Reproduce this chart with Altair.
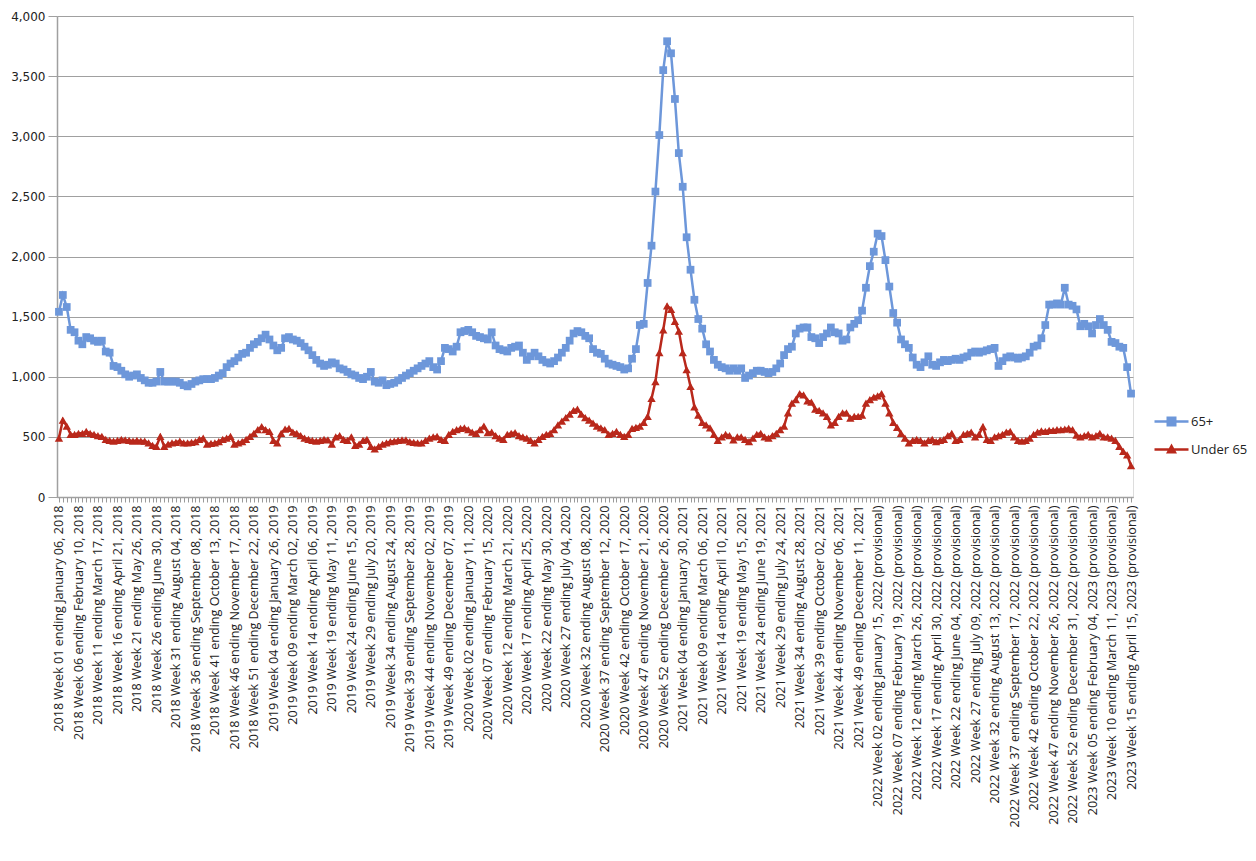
import json
import datetime
import altair as alt
import pandas as pd

# ---- data -------------------------------------------------------------
YEARS_WEEKS = [(2018, 52), (2019, 52), (2020, 53), (2021, 52), (2022, 52), (2023, 15)]
FIRST_WEEK_END = datetime.date(2018, 1, 6)
PROVISIONAL_FROM = 2022

SENIOR = [
    1540, 1680, 1580, 1390, 1370, 1300, 1270, 1330, 1320, 1300,
    1290, 1300, 1210, 1200, 1090, 1080, 1050, 1020, 1000, 1010,
    1020, 990, 970, 950, 950, 960, 1040, 960, 960, 960,
    960, 950, 930, 920, 940, 960, 970, 980, 980, 980,
    990, 1010, 1030, 1080, 1110, 1130, 1160, 1190, 1200, 1240,
    1270, 1290, 1320, 1350, 1310, 1260, 1220, 1240, 1320, 1330,
    1310, 1300, 1280, 1250, 1220, 1180, 1140, 1110, 1090, 1100,
    1120, 1110, 1070, 1060, 1040, 1020, 1010, 990, 980, 1000,
    1040, 960, 950, 970, 930, 940, 950, 970, 990, 1010,
    1030, 1050, 1070, 1090, 1110, 1130, 1080, 1060, 1130, 1240,
    1230, 1210, 1250, 1370, 1380, 1390, 1370, 1340, 1330, 1320,
    1310, 1370, 1260, 1230, 1220, 1210, 1240, 1250, 1260, 1200,
    1140, 1170, 1200, 1170, 1140, 1120, 1110, 1130, 1160, 1200,
    1240, 1300, 1360, 1380, 1370, 1340, 1320, 1230, 1200, 1190,
    1150, 1110, 1100, 1090, 1080, 1060, 1070, 1150, 1230, 1430,
    1440, 1780, 2090, 2540, 3010, 3550, 3790, 3690, 3310, 2860,
    2580, 2160, 1890, 1640, 1480, 1400, 1270, 1210, 1140, 1100,
    1080, 1070, 1050, 1070, 1050, 1070, 990, 1010, 1030, 1050,
    1050, 1040, 1030, 1040, 1070, 1110, 1180, 1230, 1250, 1360,
    1400, 1410, 1410, 1330, 1320, 1280, 1330, 1360, 1410, 1370,
    1360, 1300, 1310, 1410, 1440, 1470, 1550, 1740, 1920, 2040,
    2190, 2170, 1970, 1750, 1530, 1450, 1310, 1270, 1240, 1160,
    1100, 1080, 1120, 1170, 1100, 1090, 1120, 1140, 1130, 1140,
    1150, 1140, 1160, 1170, 1200, 1210, 1200, 1210, 1220, 1230,
    1240, 1090, 1130, 1160, 1170, 1160, 1150, 1160, 1170, 1200,
    1250, 1260, 1320, 1430, 1600, 1600, 1610, 1600, 1740, 1600,
    1590, 1560, 1420, 1440, 1420, 1360, 1430, 1480, 1430, 1390,
    1290, 1280, 1250, 1240, 1080, 860,
]

UNDER65 = [
    490, 640, 590, 520, 520, 530, 530, 545, 530, 520,
    510, 505, 480, 470, 465, 470, 480, 475, 470, 465,
    470, 465, 465, 450, 430, 420, 505, 420, 440, 450,
    455, 465, 450, 450, 455, 460, 480, 490, 440, 445,
    450, 460, 480, 490, 505, 440, 450, 460, 480, 505,
    530, 560, 585, 560, 545, 470, 450, 530, 565, 570,
    540, 530, 510, 490, 480, 470, 465, 470, 480, 475,
    440, 500, 510, 480, 470, 500, 430, 440, 470, 480,
    420, 400, 420, 440, 450, 460, 465, 470, 475, 475,
    460, 455, 450, 450, 470, 490, 500, 505, 480, 470,
    520, 545, 560, 570, 575, 560, 540, 530, 560, 590,
    535, 540, 510, 490, 480, 520, 530, 535, 510, 500,
    490, 470, 450, 480, 505, 520, 530, 560, 600, 630,
    660, 690, 720, 730, 690, 660, 640, 615, 590, 575,
    560, 520, 530, 545, 520, 505, 520, 570, 580, 590,
    620, 670, 820, 960, 1200, 1390, 1590, 1560, 1460, 1380,
    1200, 1060, 920, 750, 680, 620, 600, 575, 520, 470,
    500, 520, 510, 475, 500, 500, 480, 460, 490, 520,
    530, 500, 490, 510, 530, 560, 590, 700, 780, 810,
    860, 850, 800, 790, 730, 720, 700, 670, 600, 620,
    670, 700, 700, 655, 670, 670, 680, 780, 810, 830,
    840, 860, 780, 700, 620, 580, 530, 490, 450, 470,
    480, 470, 450, 470, 480, 460, 470, 480, 510, 530,
    470, 480, 520, 530, 540, 500, 520, 585, 480, 470,
    500, 510, 520, 540, 545, 500, 470, 465, 470, 490,
    520, 540, 550, 545, 555, 555, 560, 560, 565, 570,
    560, 515, 500, 510, 520, 500, 510, 530, 500, 500,
    490, 470, 420, 380, 350, 260,
]

SERIES = ["65+", "Under 65"]
COLORS = ["#6D97DA", "#B9281B"]
MARKERS = ["square", "triangle-up"]
LEGEND_SYMBOLS = [
    "M-3.4,-0.25H3.4V0.25H-3.4Z M-1,-1H1V1H-1Z",
    "M-3.4,-0.25H3.4V0.25H-3.4Z M0,-1.2L1.1,0.8H-1.1Z",
]

# ---- week labels ------------------------------------------------------
labels = []
k = 0
for year, nweeks in YEARS_WEEKS:
    for wk in range(1, nweeks + 1):
        d = FIRST_WEEK_END + datetime.timedelta(days=7 * k)
        lab = f"{year} Week {wk:02d} ending {d:%B %d, %Y}"
        if year >= PROVISIONAL_FROM:
            lab += " (provisional)"
        labels.append(lab)
        k += 1

n = len(labels)
shown = [labels[i] for i in range(0, n, 5)]

df = pd.DataFrame({
    "week": labels + labels,
    "series": [SERIES[0]] * n + [SERIES[1]] * n,
    "value": SENIOR[:n] + UNDER65[:n],
})

label_expr = "indexof(" + json.dumps(shown) + ", datum.value) >= 0 ? datum.value : ''"

x_enc = alt.X(
    "week:N",
    sort=labels,
    scale=alt.Scale(type="point", padding=0.5),
    axis=alt.Axis(
        title=None,
        labelAngle=-90,
        labelExpr=label_expr,
        labelOverlap=False,
        labelLimit=0,
        labelFont="Open Sans",
        labelFontSize=12.6,
        labelColor="#222222",
        labelPadding=3,
        tickColor="#9a9a9a",
        tickSize=5,
        domainColor="#a0a0a0",
        domainWidth=1.5,
        grid=False,
    ),
)

y_enc = alt.Y(
    "value:Q",
    scale=alt.Scale(domain=[0, 4000], nice=False),
    axis=alt.Axis(
        title=None,
        values=list(range(0, 4001, 500)),
        format=",.0f",
        labelFont="DejaVu Sans",
        labelFontSize=12,
        labelColor="#222222",
        labelPadding=3,
        tickSize=9,
        tickColor="#a0a0a0",
        domainColor="#a0a0a0",
        domainWidth=1.5,
        grid=True,
        gridColor="#a0a0a0",
        gridWidth=1,
    ),
)


def legend_for(idx, y_pos):
    return alt.Legend(
        title=None,
        orient="none",
        legendX=1108,
        legendY=y_pos,
        padding=0,
        symbolSize=100,
        symbolType=LEGEND_SYMBOLS[idx],
        symbolStrokeWidth=0,
        symbolOpacity=1,
        labelFont="Open Sans",
        labelFontSize=13,
        labelColor="#222222",
        labelOffset=13,
    )


base = alt.Chart(df).encode(x=x_enc, y=y_enc)

lines = base.mark_line(strokeWidth=2.5).encode(
    color=alt.Color(
        "series:N",
        scale=alt.Scale(domain=SERIES, range=COLORS),
        legend=None,
    )
)

points_sq = (
    base.transform_filter(alt.datum.series == SERIES[0])
    .mark_point(filled=True, opacity=1, size=60, shape=MARKERS[0])
    .encode(
        color=alt.Color(
            "series:N",
            scale=alt.Scale(domain=[SERIES[0]], range=[COLORS[0]]),
            legend=legend_for(0, 399),
        )
    )
)

points_tri = (
    base.transform_filter(alt.datum.series == SERIES[1])
    .mark_point(filled=True, opacity=1, size=70, shape=MARKERS[1])
    .encode(
        fill=alt.Fill(
            "series:N",
            scale=alt.Scale(domain=[SERIES[1]], range=[COLORS[1]]),
            legend=legend_for(1, 427),
        )
    )
)

chart = (
    alt.layer(lines, points_sq, points_tri)
    .resolve_scale(color="independent", fill="independent")
    .resolve_legend(color="independent", fill="independent")
    .properties(
        width=1076,
        height=481,
        autosize=alt.AutoSizeParams(type="none"),
        padding={"left": 49, "top": 8, "right": 115, "bottom": 348},
    )
    .configure_view(strokeWidth=0)
    .configure(background="white")
)

chart.save("out.html", embed_options={"renderer": "svg", "actions": False})
